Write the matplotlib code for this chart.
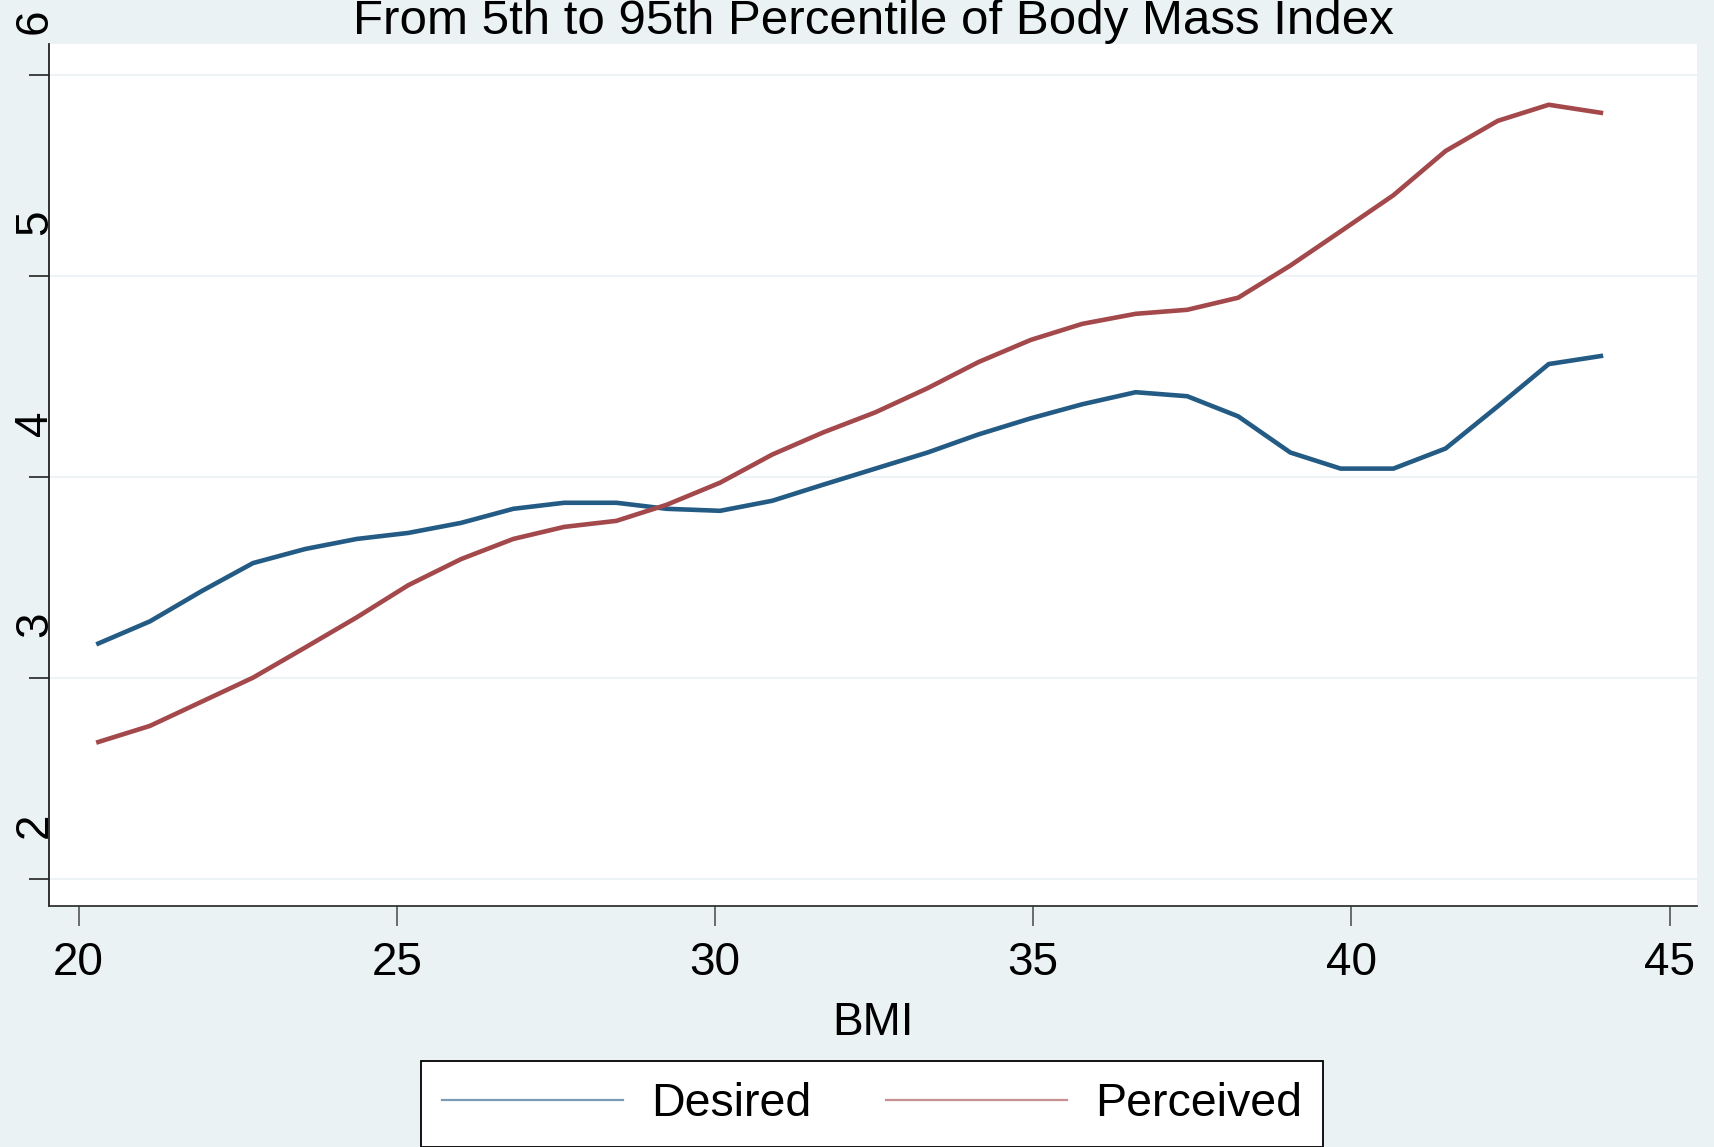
# Desired vs perceived line chart over BMI percentiles
import matplotlib
matplotlib.use("Agg")
import matplotlib.pyplot as plt
import matplotlib.transforms as mtransforms
from matplotlib.lines import Line2D

bmi = [20.31, 21.12, 21.93, 22.74, 23.56, 24.37, 25.18, 26.01, 26.83, 27.63,
       28.45, 29.24, 30.08, 30.90, 31.70, 32.52, 33.34, 34.14, 34.96, 35.77,
       36.61, 37.42, 38.22, 39.04, 39.83, 40.66, 41.48, 42.30, 43.10, 43.92]
desired = [3.17, 3.28, 3.43, 3.57, 3.64, 3.69, 3.72, 3.77, 3.84, 3.87,
           3.87, 3.84, 3.83, 3.88, 3.96, 4.04, 4.12, 4.21, 4.29, 4.36,
           4.42, 4.40, 4.30, 4.12, 4.04, 4.04, 4.14, 4.35, 4.56, 4.60]
perceived = [2.68, 2.76, 2.88, 3.00, 3.15, 3.30, 3.46, 3.59, 3.69, 3.75,
             3.78, 3.86, 3.97, 4.11, 4.22, 4.32, 4.44, 4.57, 4.68, 4.76,
             4.81, 4.83, 4.89, 5.05, 5.22, 5.40, 5.62, 5.77, 5.85, 5.81]
series_names = ["Desired", "Perceived"]
xticks = [20, 25, 30, 35, 40, 45]
yticks = [2, 3, 4, 5, 6]
title = "From 5th to 95th Percentile of Body Mass Index"

bg = "#EAF2F3"
blue = "#235B85"
red = "#A3484B"

plt.rcParams["font.family"] = ["Liberation Sans", "DejaVu Sans"]

fig = plt.figure(figsize=(17.15, 11.47), dpi=100, facecolor=bg)
ax = fig.add_axes([0.0286, 0.2101, 0.9609, 0.7515])
ax.set_facecolor("white")

ax.plot(bmi, desired, color=blue, lw=3.3, solid_joinstyle="miter")
ax.plot(bmi, perceived, color=red, lw=3.3, solid_joinstyle="miter")

ax.set_xlim(19.535, 45.43)
ax.set_ylim(1.864, 6.152)
ax.set_xticks(xticks)
ax.set_yticks(yticks)
ax.grid(axis="y", color="#EBF2F3", lw=1.2)
ax.set_axisbelow(True)

for s in ["top", "right"]:
    ax.spines[s].set_visible(False)
ax.spines["left"].set_color("#222222")
ax.spines["bottom"].set_color("#333333")
ax.spines["left"].set_linewidth(1.3)
ax.spines["bottom"].set_linewidth(1.3)

ax.tick_params(axis="x", length=14.4, width=1.2, color="#555555",
               labelsize=33, pad=11)
ax.tick_params(axis="y", length=14.4, width=1.2, color="#222222",
               labelsize=33, pad=0)
for lab in ax.get_yticklabels():
    lab.set_rotation(90)
    lab.set_va("center")
    lab.set_transform(lab.get_transform() +
                      mtransforms.ScaledTranslation(0.28, 0.53, fig.dpi_scale_trans))

ax.set_xlabel("BMI", fontsize=33, labelpad=11)
ax.set_title(title, fontsize=35.5, pad=5)

handles = [Line2D([], [], color=blue, lw=1.6, alpha=0.6),
           Line2D([], [], color=red, lw=1.6, alpha=0.6)]
leg = fig.legend(handles, series_names, loc="upper center",
                 bbox_to_anchor=(0.5085, 0.075), ncol=2, fontsize=33.5,
                 frameon=True, fancybox=False, edgecolor="black",
                 facecolor="white", framealpha=1,
                 borderaxespad=0, borderpad=0.45, handlelength=3.9,
                 handletextpad=0.6, columnspacing=1.6)
leg.get_frame().set_linewidth(1.3)

fig.savefig("out.png", dpi=100, facecolor=bg)
